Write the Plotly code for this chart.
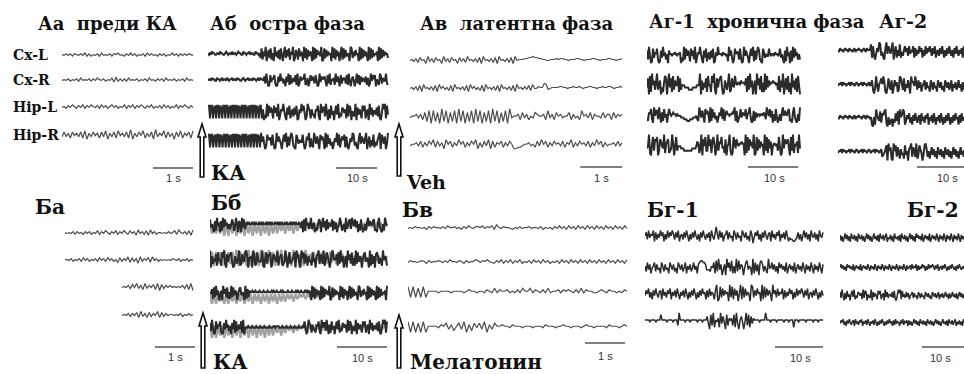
import plotly.graph_objects as go

W, H = 964, 374

# ---------------- data: EEG samples encoded as digit strings (0..9, 4.5 = baseline) -------------
# dense (high-amplitude, fast) segments read from the recordings
D1 = "2816390472815093627184059273816490275183640928173650918274639018273645092817360491827354098263745091827364091827354609182736452"
D2 = "7294018365820173946250739182463819027465912603847528401937567308291546193740826562819305740492817365371602948580531972644921"
D3 = "6031928475184729036595207381462738016495840297516331658209477294061835058391427646192870532907364185814609372553728104969183"
D4 = "1947302856628301947530584917269721086354483027591621963740857509183624036492815758172036498241069375369047152814257908637039"
D5 = "8352071946071938462524861395076093825174354176089291702483654825693017163850729472039415685961038427037461298528153740966490"
D6 = "3708194625924603158705937182644817260359613509247829648370518302516947547812069310519643827689205134042738195698134560275261"
D7 = "9062537184418592073678301642591274389605560971284334910582768027643915671239504823468095710958274163418350679275291386403894"
D8 = "5471829360360947281519283650478354091726078625319465139074822947168503926583417045920186373816497025673028195410486973528163"
# medium-amplitude segments
M1 = "4627354716253746152736475263714526374152637425163742536174253617462537"
M2 = "5273614572634175263417536241753624715362473516247352614736251743625"
M3 = "3647251637425617352647153627415362741526374152637451627354163725461"
M4 = "6251473625174362517436251473625147352617436257143625174352617436251"
M5 = "4736251746352714635271463527416352741635274163527416352741635274163"

AA_CXL = "5464636546473635463745463657453647463546374645364635474636464654"
AA_CXR = "4546354637454636475463547283636374546354637453646374546354637454"
AA_HIPL = "4536475364736475463746357463547364736475364735463746354736475364"
AA_HIPR = "3736274637281637462738163728463729163748263719364827361738264728"

BA_CXL = "5454636453646354736475364736475374628463728463554546457385463728"
BA_CXR = "5546354637463546374637463527364827361836472846354545465463546354"
BA_HIPL = "45463748362836472817364645454637281"
BA_HIPR = "45463647283627364827364554546354645"

AB_CXL = "5454655445546554456545546455456554465545564554465545" + D1
AB_CXR = "45546554465545645546545564554655445654556455465545646554" + D2
AB_HIPL = "881881781881871881881781881881871881881781881881871881" + D3
AB_HIPR = "88188178188187188188178188188187188188178188188187" + D4

BB1_GREY = "5151515050515051505150515051505151525152515253525352535453545354535453545354535453545354"
BB1_BLACK = D5[:36] + "5656556565655656565565656565566565656556565565656565565" + D6[:87]
BB2_GREY = "1818281918281918281918281918291818291828191828193728372837283728374645464546454645464546"
BB2_BLACK = D7 + D8[:53]
BB3_GREY = "4040414040414041404140414041404140414142414243424342434454545454545454545454545454545454"
BB3_BLACK = D8[:40] + "5565565556555655565556565565556565555655565556565565556565" + D1[40:118]
BB4_GREY = "5050515051505150515051505150515152515253525354535453545354545454545454545454545454545454"
BB4_BLACK = D2[:35] + "44454445444544454445444454445545554445444544454445444544454" + D3[40:123]

AV_CXL = ("45362745183627451836274517362845362718453627184536271845"
          "5566778776655445556566554555665545556655455566554556")
AV_CXR = ("4536271845362718463527184536271846352718453627184536271845363728"
          "4465598345555665545565565455665545565566545565")
AV_HIPL = ("45564637" "2818271928172819281728192817281928172819"
           "45563746354765563846375645573645385647365547466374656")
AV_HIPR = ("4556473647583746285736485736475826374827365736475"
           "2233455645374857364756473658364756473648573645564746")

BV_CXL = ("45465545364655464755645364754665746573854655435464556455463545"
          "364746374637463746374637463746374")
BV_CXR = ("46554565364556546475546536455764657543647364736473546374637463"
          "546374637463746374637463746374637")
BV_HIPL = ("81817181" "555545555455554565545"
           "5465474655645464755746546474556465654647465544565465545465")
BV_HIPR = ("81817181" "5555465" "73625738162747381637"
           "5565546555455545554655545565545554565545555465554565")

AG1_1 = D2[0:23] + "5545565455" + D3[0:40] + "55465545" + D4[0:42] + "5455465545" + D5[0:21]
AG1_2 = D6[0:35] + "444333322223333444" + D7[0:36] + "54554655" + D8[0:26] + "45565545" + D1[0:23]
AG1_3 = D3[50:73] + "54565545" + "4443332221112223334" + D4[50:80] + "5545565" + D5[50:73] + "55455465" + D6[50:85]
AG1_4 = D7[50:81] + "4443332222222233334" + D8[50:90] + "545565" + D1[50:79] + "45545" + D2[50:73]

AG2_1 = "5465545655465545645565545654655" + D4[80:115] + M1[:66]
AG2_2 = "455646554556465545654556465545645" + D5[80:123] + M2[:56]
AG2_3 = "546554565546554564556554565465545" + D6[80:113] + M3[:66]
AG2_4 = "4556465545564655456545564655456545564655456" + D7[80:123] + M4[:46]

BG1_1 = M1[0:60] + "9" + M2[0:30] + "0" + M3[0:30] + "3221123" + M4[0:22]
BG1_2 = M2[0:45] + "6788776" + "3332" + D8[0:50] + M5[0:45]
BG1_3 = M3[0:60] + D1[60:108] + M1[0:42]
BG1_4 = ("55554555545558555545555455529555545554555" "5545554555" + D2[60:100] +
         "55545555955545555455555455545551555455555455555455545555")

BG2_1 = M4 + M5[:60]
BG2_2 = M5 + M1[:60]
BG2_3 = D3[60:124] + M2[:66]
BG2_4 = M3 + M4[:60]

CHANNELS = ["Cx-L", "Cx-R", "Hip-L", "Hip-R"]

# ---------------- layout of panels (pixel geometry / styles) ----------------
FINE = "#4d4d4d"
DENSE = "#2b2b2b"
GREY = "#a2a2a2"
FW = 1.2   # fine trace width
DW = 2.0   # dense trace width
MW = 1.5   # medium-density width

panels = [
    dict(x0=62, xR=196, pxps=40, bar=(2.275, 1), bar_y=168, lab="1 s", lab_xy=(173, 178),
         tr=[(55, AA_CXL, 0.8, 0, 3.275, FINE, FW), (80, AA_CXR, 0.8, 0, 3.275, FINE, FW),
             (107, AA_HIPL, 0.9, 0, 3.275, FINE, FW), (135, AA_HIPR, 1.2, 0, 3.275, FINE, FW)]),
    dict(x0=65, xR=197, pxps=40, bar=(2.25, 1), bar_y=347, lab="1 s", lab_xy=(175, 357),
         tr=[(233, BA_CXL, 0.9, 0, 3.2, FINE, FW), (260, BA_CXR, 0.9, 0, 3.2, FINE, FW),
             (287, BA_HIPL, 1.0, 1.425, 3.2, FINE, FW), (315, BA_HIPR, 1.0, 1.425, 3.2, FINE, FW)]),
    dict(x0=208, xR=390, pxps=4.1, bar=(31.2, 10), bar_y=168, lab="10 s", lab_xy=(357, 178),
         tr=[(54, AB_CXL, 1.6, 0, 43.9, DENSE, DW), (80, AB_CXR, 1.4, 0, 43.9, DENSE, DW),
             (112, AB_HIPL, 1.8, 0, 43.9, DENSE, DW), (141, AB_HIPR, 1.8, 0, 43.9, DENSE, DW)]),
    dict(x0=210, xR=389, pxps=5.0, bar=(25.4, 10), bar_y=347, lab="10 s", lab_xy=(362, 358),
         tr=[(225, BB1_GREY, 2.4, 0, 35.4, GREY, 2.4), (225, BB1_BLACK, 1.6, 0, 35.4, DENSE, DW),
             (259, BB2_GREY, 2.0, 0, 35.4, GREY, 2.4), (259, BB2_BLACK, 1.9, 0, 35.4, DENSE, DW),
             (293, BB3_GREY, 2.4, 0, 35.4, GREY, 2.4), (293, BB3_BLACK, 1.6, 0, 35.4, DENSE, DW),
             (327, BB4_GREY, 2.4, 0, 35.4, GREY, 2.4), (327, BB4_BLACK, 1.6, 0, 35.4, DENSE, DW)]),
    dict(x0=410, xR=624, pxps=42, bar=(4.05, 1), bar_y=167, lab="1 s", lab_xy=(601, 178),
         tr=[(60, AV_CXL, 1.0, 0, 5.05, FINE, FW), (88, AV_CXR, 1.0, 0, 5.05, FINE, FW),
             (117, AV_HIPL, 1.8, 0, 5.05, FINE, FW), (145, AV_HIPR, 1.5, 0, 5.05, FINE, FW)]),
    dict(x0=408, xR=629, pxps=40, bar=(4.425, 1), bar_y=343, lab="1 s", lab_xy=(605, 356),
         tr=[(228, BV_CXL, 0.9, 0, 5.475, FINE, FW), (262, BV_CXR, 0.9, 0, 5.475, FINE, FW),
             (292, BV_HIPL, 1.5, 0, 5.475, FINE, FW), (327, BV_HIPR, 1.5, 0, 5.475, FINE, FW)]),
    dict(x0=647, xR=802, pxps=5, bar=(20.2, 10), bar_y=167, lab="10 s", lab_xy=(774, 178),
         tr=[(55, AG1_1, 1.8, 0, 30.6, DENSE, DW), (84, AG1_2, 2.3, 0, 30.6, DENSE, DW),
             (115, AG1_3, 1.7, 0, 30.6, DENSE, DW), (145, AG1_4, 2.3, 0, 30.6, DENSE, DW)]),
    dict(x0=838, xR=964, pxps=5, bar=(15.8, 10), bar_y=167, lab="10 s", lab_xy=(947, 178),
         tr=[(51, AG2_1, 1.9, 0, 27, DENSE, DW), (85, AG2_2, 1.9, 0, 27, DENSE, DW),
             (118, AG2_3, 1.9, 0, 27, DENSE, DW), (152, AG2_4, 1.9, 0, 27, DENSE, DW)]),
    dict(x0=645, xR=825, pxps=4.8, bar=(27.08, 10), bar_y=347, lab="10 s", lab_xy=(800, 358),
         tr=[(235, BG1_1, 1.8, 0, 37.08, DENSE, MW), (267, BG1_2, 1.8, 0, 37.08, DENSE, MW),
             (293, BG1_3, 1.8, 0, 37.08, DENSE, MW), (321, BG1_4, 1.8, 0, 37.08, DENSE, MW)]),
    dict(x0=840, xR=964, pxps=4.8, bar=(17.08, 10), bar_y=347, lab="10 s", lab_xy=(940, 358),
         tr=[(237, BG2_1, 1.4, 0, 27, DENSE, MW), (267, BG2_2, 1.1, 0, 27, DENSE, MW),
             (295, BG2_3, 1.2, 0, 27, DENSE, MW), (322, BG2_4, 1.1, 0, 27, DENSE, MW)]),
]

fig = go.Figure()
layout = dict(width=W, height=H, margin=dict(l=0, r=0, t=0, b=0, pad=0),
              paper_bgcolor="white", plot_bgcolor="rgba(0,0,0,0)", showlegend=False)

annotations = []
for i, p in enumerate(panels):
    n = "" if i == 0 else str(i + 1)
    layout["xaxis" + n] = dict(domain=[p["x0"] / W, p["xR"] / W],
                               range=[0, (p["xR"] - p["x0"]) / p["pxps"]],
                               visible=False, fixedrange=True, anchor="y" + n)
    layout["yaxis" + n] = dict(domain=[0, 1], range=[H, 0], visible=False,
                               fixedrange=True, anchor="x" + n)
    for (y0, s, k, t0, t1, col, lw) in p["tr"]:
        vals = [int(c) - 4.5 for c in s]
        m = len(vals)
        xs = [t0 + (t1 - t0) * j / (m - 1) for j in range(m)]
        ys = [y0 - k * v for v in vals]
        fig.add_trace(go.Scatter(x=xs, y=ys, mode="lines",
                                 line=dict(color=col, width=lw, simplify=False),
                                 xaxis="x" + n, yaxis="y" + n, hoverinfo="skip"))
    bs, bl = p["bar"]
    fig.add_trace(go.Scatter(x=[bs, bs + bl], y=[p["bar_y"], p["bar_y"]], mode="lines",
                             line=dict(color="#555555", width=1.6),
                             xaxis="x" + n, yaxis="y" + n, hoverinfo="skip"))
    lx, ly = p["lab_xy"]
    annotations.append(dict(x=lx / W, y=1 - ly / H, xref="paper", yref="paper", text=p["lab"],
                            showarrow=False, xanchor="center", yanchor="middle",
                            font=dict(family="Liberation Sans", size=11, color="#333333")))

SERIF = "DejaVu Serif"


def label(text, px, py, size, anchor="left"):
    annotations.append(dict(x=px / W, y=1 - py / H, xref="paper", yref="paper",
                            text="<b>" + text + "</b>", showarrow=False,
                            xanchor=anchor, yanchor="middle",
                            font=dict(family=SERIF, size=size, color="#111111")))


label("Аа&nbsp;&nbsp;преди КА", 36, 23, 18)
label("Аб&nbsp;&nbsp;остра фаза", 208, 23, 18)
label("Ав&nbsp;&nbsp;латентна фаза", 418, 23, 18)
label("Аг-1&nbsp; хронична фаза", 647, 21, 18)
label("Аг-2", 877, 21, 19)
label("Ба", 33, 207, 20)
label("Бб", 209, 203, 20)
label("Бв", 400, 210, 20)
label("Бг-1", 645, 210, 20)
label("Бг-2", 905, 210, 20)
for name, yy in zip(CHANNELS, [55, 80, 107, 135]):
    label(name, 11, yy, 14)
label("КА", 209, 173, 20)
label("КА", 211, 362, 20)
label("Veh", 404, 182, 19)
label("Мелатонин", 408, 362, 20)

layout["annotations"] = annotations


def arrow(cx, top, bottom):
    def P(x, y):
        return f"{x / W:.5f},{1 - y / H:.5f}"
    pts = [(cx, top), (cx + 4, top + 13), (cx + 1.8, top + 13), (cx + 1.8, bottom),
           (cx - 1.8, bottom), (cx - 1.8, top + 13), (cx - 4, top + 13)]
    path = "M " + " L ".join(P(x, y) for x, y in pts) + " Z"
    return dict(type="path", path=path, xref="paper", yref="paper",
                line=dict(color="#111111", width=1.6), fillcolor="white")


layout["shapes"] = [arrow(202, 124, 177), arrow(399, 124, 176),
                    arrow(203, 313, 368), arrow(399, 315, 368)]

fig.update_layout(**layout)
fig.write_html("out.html")
